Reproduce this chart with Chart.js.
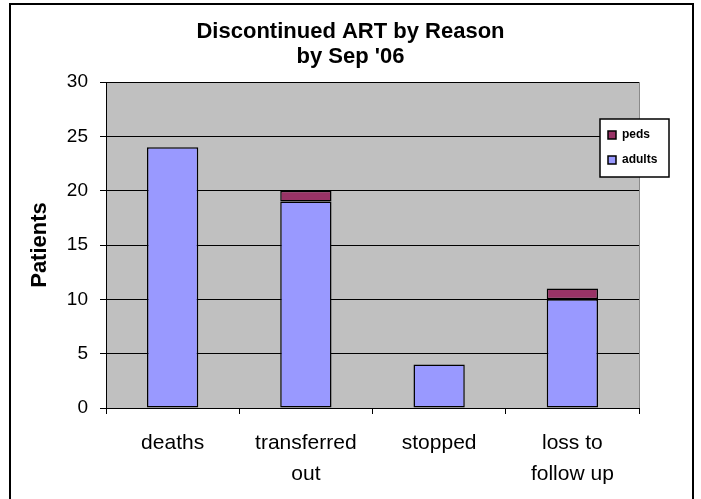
<!DOCTYPE html>
<html lang="en">
<head>
    <meta charset="UTF-8">
    <title>Discontinued ART by Reason</title>
    <script src="https://cdn.jsdelivr.net/npm/chart.js"></script>
</head>
<body style="margin:0; background:#fff; overflow:hidden;">
    <div style="position:relative; width:701px; height:499px;">
        <canvas id="artChart" width="701" height="499"></canvas>
        <div style="position:absolute; left:9px; top:3px; width:681px; height:520px;
            border:2px solid #000; pointer-events:none;"></div>
    </div>

    <script>
        const reasons = ['deaths', ['transferred', 'out'], 'stopped', ['loss to', 'follow up']];
        const adults = [24, 19, 4, 10];
        const peds = [0, 1, 0, 1];
        const yTicks = [0, 5, 10, 15, 20, 25, 30];

        const FONT = '"Liberation Sans", Arial, sans-serif';

        // gray plot area behind the bars
        const plotBg = {
            id: 'plotBg',
            beforeDraw(chart) {
                const { ctx, chartArea: a } = chart;
                ctx.save();
                ctx.fillStyle = '#c0c0c0';
                ctx.fillRect(a.left, a.top, a.right - a.left, a.bottom - a.top);
                ctx.strokeStyle = '#8a8a8a';
                ctx.lineWidth = 1;
                ctx.beginPath();
                ctx.moveTo(a.right + 0.5, a.top);
                ctx.lineTo(a.right + 0.5, a.bottom);
                ctx.stroke();
                ctx.restore();
            }
        };

        // small excel style legend box, peds on top
        const boxLegend = {
            id: 'boxLegend',
            afterDraw(chart) {
                const { ctx, chartArea: a } = chart;
                const x = a.right - 39, y = 119, w = 69, h = 58;
                ctx.save();
                ctx.fillStyle = '#fff';
                ctx.fillRect(x, y, w, h);
                ctx.strokeStyle = '#000';
                ctx.lineWidth = 1.5;
                ctx.strokeRect(x, y, w, h);
                ctx.font = 'bold 12px ' + FONT;
                ctx.textBaseline = 'middle';
                const sets = chart.data.datasets.slice().reverse();
                sets.forEach((ds, i) => {
                    const cy = y + 16 + i * 25;
                    ctx.fillStyle = ds.backgroundColor;
                    ctx.fillRect(x + 8, cy - 4, 8, 8);
                    ctx.lineWidth = 1.5;
                    ctx.strokeRect(x + 8, cy - 4, 8, 8);
                    ctx.fillStyle = '#000';
                    ctx.fillText(ds.label, x + 22, cy);
                });
                ctx.restore();
            }
        };

        const ctx = document.getElementById('artChart').getContext('2d');
        new Chart(ctx, {
            type: 'bar',
            data: {
                labels: reasons,
                datasets: [{
                    label: 'adults',
                    data: adults,
                    backgroundColor: '#9999ff',
                    borderColor: '#000',
                    borderWidth: 1.5,
                    borderSkipped: false
                }, {
                    label: 'peds',
                    data: peds,
                    backgroundColor: '#993366',
                    borderColor: '#000',
                    borderWidth: 1.5,
                    borderSkipped: false
                }]
            },
            options: {
                responsive: false,
                animation: false,
                layout: { padding: { left: 10, right: 10, top: 0, bottom: 0 } },
                datasets: { bar: { categoryPercentage: 1, barPercentage: 0.385 } },
                scales: {
                    x: {
                        stacked: true,
                        grid: { drawOnChartArea: false, color: '#000', tickLength: 6, offset: true },
                        border: { color: '#000', width: 1 },
                        ticks: {
                            color: '#000',
                            padding: 14,
                            font: { family: FONT, size: 21, lineHeight: '31px' }
                        },
                        afterFit(scale) { scale.height = 91; }
                    },
                    y: {
                        stacked: true,
                        min: 0,
                        max: 30,
                        afterBuildTicks(scale) { scale.ticks = yTicks.map(v => ({ value: v })); },
                        grid: { color: '#000', lineWidth: 1, tickLength: 6 },
                        border: { color: '#000', width: 1 },
                        ticks: {
                            color: '#000',
                            padding: 12,
                            font: { family: FONT, size: 19 }
                        },
                        title: {
                            display: true,
                            text: 'Patients',
                            color: '#000',
                            padding: { top: 17, bottom: 0 },
                            font: { family: FONT, size: 22, weight: 'bold' }
                        },
                        afterFit(scale) { scale.width = 96; }
                    },
                    spare: {
                        position: 'right',
                        display: true,
                        grid: { display: false },
                        border: { display: false },
                        ticks: { display: false },
                        afterFit(scale) { scale.width = 52; }
                    }
                },
                plugins: {
                    legend: { display: false },
                    tooltip: { enabled: false },
                    title: {
                        display: true,
                        text: ['Discontinued ART by Reason', "by Sep '06"],
                        color: '#000',
                        padding: { top: 19, bottom: 13 },
                        font: { family: FONT, size: 22, weight: 'bold', lineHeight: '25px' }
                    }
                }
            },
            plugins: [plotBg, boxLegend]
        });
    </script>
</body>
</html>
